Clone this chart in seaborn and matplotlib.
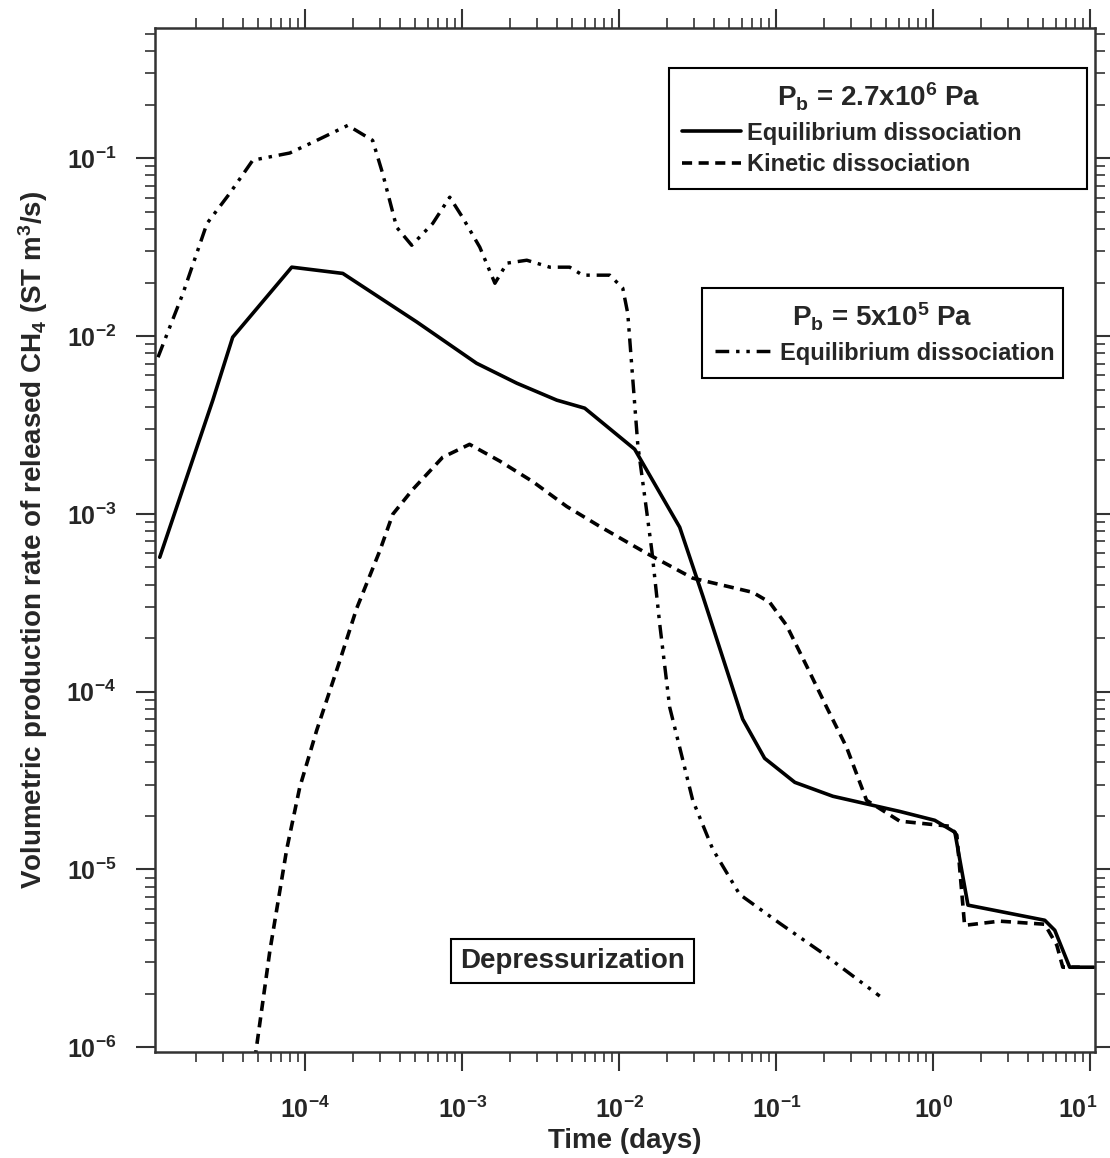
import numpy as np
import matplotlib
matplotlib.use("Agg")
import matplotlib.pyplot as plt
import matplotlib.transforms as mtransforms
import seaborn as sns
from matplotlib.lines import Line2D
from matplotlib.ticker import LogLocator, FixedLocator, FuncFormatter, NullFormatter

# Equilibrium dissociation, P_b = 2.7x10^6 Pa  (time in days, rate in ST m^3/s)
t_eq_high = [1.18e-5, 2.57e-5, 3.44e-5, 8.18e-5, 1.73e-4, 5.12e-4, 1.23e-3, 2.22e-3,
             3.99e-3, 6.01e-3, 1.25e-2, 2.42e-2, 3.40e-2, 6.10e-2, 8.41e-2, 0.131,
             0.229, 0.610, 1.02, 1.37, 1.66, 5.12, 5.93, 7.38, 10.5]
q_eq_high = [5.70e-4, 4.36e-3, 9.85e-3, 2.44e-2, 2.25e-2, 1.20e-2, 7.03e-3, 5.43e-3,
             4.36e-3, 3.93e-3, 2.31e-3, 8.41e-4, 3.44e-4, 7.00e-5, 4.22e-5, 3.09e-5,
             2.58e-5, 2.12e-5, 1.89e-5, 1.62e-5, 6.30e-6, 5.18e-6, 4.55e-6, 2.82e-6, 2.82e-6]

# Kinetic dissociation, P_b = 2.7x10^6 Pa
t_kin_high = [4.75e-5, 5.93e-5, 7.60e-5, 9.20e-5, 1.18e-4, 1.65e-4, 2.12e-4, 2.97e-4,
              3.60e-4, 4.82e-4, 7.48e-4, 1.11e-3, 1.73e-3, 2.80e-3, 4.62e-3, 7.48e-3,
              1.49e-2, 2.93e-2, 7.06e-2, 9.06e-2, 0.116, 0.156, 0.209, 0.280, 0.375,
              0.610, 1.27, 1.41, 1.58, 2.64, 5.12, 6.11, 6.67, 8.56]
q_kin_high = [8.45e-7, 3.47e-6, 1.30e-5, 2.90e-5, 6.07e-5, 1.48e-4, 2.94e-4, 6.17e-4,
              9.95e-4, 1.37e-3, 2.08e-3, 2.46e-3, 1.98e-3, 1.52e-3, 1.10e-3, 8.51e-4,
              6.00e-4, 4.35e-4, 3.62e-4, 3.18e-4, 2.36e-4, 1.39e-4, 8.17e-5, 4.86e-5, 2.45e-5,
              1.87e-5, 1.75e-5, 1.56e-5, 4.85e-6, 5.12e-6, 4.92e-6, 3.75e-6, 2.82e-6, 2.82e-6]

# Equilibrium dissociation, P_b = 5x10^5 Pa
t_eq_low = [1.15e-5, 1.66e-5, 2.36e-5, 3.30e-5, 4.62e-5, 7.94e-5, 1.18e-4, 1.86e-4,
            2.68e-4, 3.10e-4, 3.81e-4, 4.75e-4, 6.47e-4, 8.30e-4, 1.00e-3, 1.29e-3,
            1.61e-3, 1.92e-3, 2.57e-3, 3.60e-3, 4.82e-3, 5.83e-3, 8.67e-3, 1.05e-2,
            1.13e-2, 1.20e-2, 1.31e-2, 1.49e-2, 1.61e-2, 1.81e-2, 2.09e-2, 2.42e-2,
            2.93e-2, 3.93e-2, 5.83e-2, 0.105, 0.189, 0.455]
q_eq_low = [7.60e-3, 1.74e-2, 4.30e-2, 6.36e-2, 9.75e-2, 0.107, 0.126, 0.153,
            0.126, 8.23e-2, 4.09e-2, 3.24e-2, 4.30e-2, 6.04e-2, 4.66e-2, 3.16e-2,
            1.98e-2, 2.57e-2, 2.67e-2, 2.44e-2, 2.44e-2, 2.20e-2, 2.20e-2, 1.86e-2,
            1.34e-2, 6.68e-3, 2.43e-3, 1.04e-3, 6.17e-4, 2.36e-4, 8.17e-5, 4.86e-5,
            2.45e-5, 1.30e-5, 7.24e-6, 4.98e-6, 3.47e-6, 1.94e-6]

# Decade ticks on each axis
x_decades = [1e-4, 1e-3, 1e-2, 1e-1, 1e0, 1e1]
y_decades = [1e-6, 1e-5, 1e-4, 1e-3, 1e-2, 1e-1]

x_label = "Time (days)"
y_label = r"Volumetric production rate of released CH$_\mathbf{4}$ (ST m$^\mathbf{3}$/s)"
legend_high_title = r"P$_\mathbf{b}$ = 2.7x10$^\mathbf{6}$ Pa"
legend_low_title = r"P$_\mathbf{b}$ = 5x10$^\mathbf{5}$ Pa"
series_high = ["Equilibrium dissociation", "Kinetic dissociation"]
series_low = ["Equilibrium dissociation"]
case_note = "Depressurization"

sns.set_style("ticks")
plt.rcParams["font.family"] = ["Liberation Sans", "DejaVu Sans"]
plt.rcParams["font.weight"] = "bold"
plt.rcParams["mathtext.fontset"] = "custom"
plt.rcParams["mathtext.rm"] = "Liberation Sans:bold"
plt.rcParams["mathtext.it"] = "Liberation Sans:bold"
plt.rcParams["mathtext.bf"] = "Liberation Sans:bold"

LW = 2.6
DASHED = (0, (2.8, 1.8))
DASH_DOT_DOT = (0, (4.0, 2.0, 1.0, 2.0, 1.0, 2.0))

fig = plt.figure(figsize=(11.1, 11.58), dpi=100)
ax = fig.add_axes([0.1396, 0.0915, 0.8469, 0.8843])

sns.lineplot(x=t_eq_high, y=q_eq_high, ax=ax, color="black", lw=LW,
             linestyle="-", sort=False, estimator=None)
sns.lineplot(x=t_kin_high, y=q_kin_high, ax=ax, color="black", lw=LW,
             linestyle=DASHED, sort=False, estimator=None)
sns.lineplot(x=t_eq_low, y=q_eq_low, ax=ax, color="black", lw=LW * 0.95,
             linestyle=DASH_DOT_DOT, sort=False, estimator=None)

ax.set_xscale("log")
ax.set_yscale("log")
ax.set_xlim(1.1e-5, 10.7)
ax.set_ylim(0.94e-6, 0.54)

pow_fmt = FuncFormatter(lambda v, p: r"$\mathbf{10^{%d}}$" % int(round(np.log10(v))))
for axis, decades in ((ax.xaxis, x_decades), (ax.yaxis, y_decades)):
    axis.set_major_locator(FixedLocator(decades))
    axis.set_minor_locator(LogLocator(base=10, subs=np.arange(2, 10), numticks=30))
    axis.set_major_formatter(pow_fmt)
    axis.set_minor_formatter(NullFormatter())

ax.tick_params(which="both", direction="out", top=True, right=True,
               labeltop=False, labelright=False, color="#333333")
ax.tick_params(which="major", length=14, width=1.5, labelsize=18)
ax.tick_params(which="minor", length=7, width=1.2)
ax.tick_params(axis="x", which="major", pad=18)
ax.tick_params(axis="y", which="major", pad=14)
for sp in ax.spines.values():
    sp.set_color("#333333")
    sp.set_linewidth(1.8)

ax.set_xlabel(x_label, fontsize=20, fontweight="bold", labelpad=4)
ax.set_ylabel(y_label, fontsize=20, fontweight="bold", labelpad=12)

legend_kw = dict(loc="upper left", mode="expand", fancybox=False, edgecolor="black",
                 framealpha=1, fontsize=17,
                 title_fontproperties={"weight": "bold", "size": 20},
                 handlelength=2.5, borderpad=0.55, labelspacing=0.35,
                 handletextpad=0.25, borderaxespad=0)

h_high = [Line2D([], [], color="black", lw=LW, linestyle="-"),
          Line2D([], [], color="black", lw=LW, linestyle=DASHED)]
leg_high = ax.legend(h_high, series_high, title=legend_high_title,
                     bbox_to_anchor=(0.547, 0.861, 0.445, 0.1), **legend_kw)
leg_high.get_frame().set_linewidth(1.5)
ax.add_artist(leg_high)

h_low = [Line2D([], [], color="black", lw=LW * 0.95, linestyle=DASH_DOT_DOT)]
leg_low = ax.legend(h_low, series_low, title=legend_low_title,
                    bbox_to_anchor=(0.582, 0.646, 0.384, 0.1), **legend_kw)
leg_low.get_frame().set_linewidth(1.5)

ax.text(0.444, 0.089, case_note, transform=ax.transAxes, ha="center", va="center",
        fontsize=20, fontweight="bold",
        bbox=dict(boxstyle="square,pad=0.32", facecolor="white", edgecolor="black", linewidth=1.5))

# keep the rightmost x tick label (10^1) inside the canvas
fig.canvas.draw()
for tick in ax.xaxis.get_major_ticks():
    lbl = tick.label1
    if lbl.get_text() == r"$\mathbf{10^{1}}$":
        lbl.set_transform(lbl.get_transform() +
                          mtransforms.ScaledTranslation(-9 / 72, 0, fig.dpi_scale_trans))

fig.savefig("out.png", dpi=100)
